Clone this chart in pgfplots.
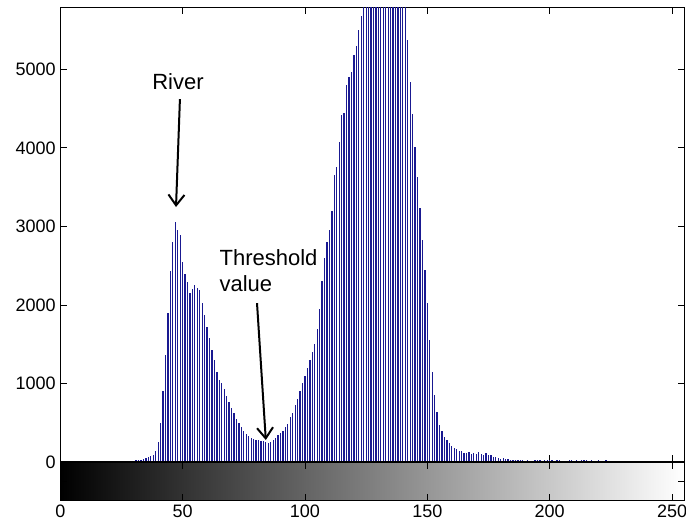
\documentclass[border=0pt]{standalone}
\usepackage{fontspec}
\setmainfont{Liberation Sans}
\usepackage{pgfplots}
\pgfplotsset{compat=1.18}
\usepgfplotslibrary{patchplots}
\usetikzlibrary{arrows.meta}
\definecolor{stemblue}{RGB}{25,25,145}

\pgfplotstableread{
bin count
29 12
30 15
31 20
32 22
33 28
34 38
35 48
36 60
37 72
38 95
39 140
40 250
41 500
42 900
43 1360
44 1900
45 2430
46 2800
47 3050
48 2960
49 2890
50 2550
51 2400
52 2290
53 2150
54 2200
55 2250
56 2220
57 2190
58 2020
59 1870
60 1720
61 1580
62 1430
63 1300
64 1150
65 1050
66 1000
67 930
68 840
69 760
70 690
71 630
72 550
73 500
74 450
75 400
76 360
77 330
78 310
79 295
80 285
81 275
82 270
83 262
84 250
85 240
86 255
87 275
88 300
89 340
90 370
91 400
92 440
93 490
94 570
95 620
96 720
97 800
98 900
99 1000
100 1100
101 1200
102 1300
103 1400
104 1500
105 1700
106 1950
107 2300
108 2600
109 2800
110 2950
111 3200
112 3650
113 3760
114 4080
115 4420
116 4440
117 4800
118 4900
119 4970
120 5180
121 5300
122 5500
123 5680
124 5900
125 6150
126 6400
127 6650
128 6900
129 7100
130 7250
131 7350
132 7400
133 7350
134 7250
135 7050
136 6850
137 6600
138 6350
139 6100
140 5950
141 5850
142 5370
143 4840
144 4430
145 4010
146 3630
147 3230
148 2830
149 2440
150 2020
151 1550
152 1150
153 850
154 640
155 470
156 400
157 320
158 285
159 245
160 200
161 175
162 160
163 135
164 140
165 120
166 110
167 130
168 102
169 110
170 108
171 130
172 100
173 90
174 118
175 95
176 85
177 68
178 60
179 50
180 42
181 45
182 35
183 35
184 28
185 28
186 25
187 22
188 20
189 22
190 18
191 20
192 16
193 18
194 22
195 20
196 25
197 18
198 22
199 30
200 20
201 25
202 18
203 22
204 20
205 15
207 18
208 20
209 22
210 18
211 25
213 22
214 30
215 20
217 25
220 28
223 25
}\histdata

\begin{document}
\begin{tikzpicture}
\useasboundingbox (-45.2pt,-50.25pt) rectangle (469.3pt,346.5pt);

% histogram stems
\begin{axis}[
    name=main,
    at={(0,0)}, anchor=south west,
    scale only axis,
    width=468pt, height=341pt,
    xmin=0, xmax=255,
    ymin=0, ymax=5790,
    xtick={0,50,...,250},
    xticklabels={},
    ytick={0,1000,...,5000},
    scaled y ticks=false,
    /pgf/number format/1000 sep={},
    /pgf/number format/assume math mode=true,
    ticklabel style={font=\fontsize{13.5}{16}\selectfont},
    major tick length=5pt,
    tick style={black, line width=0.6pt},
    axis line style={line width=0.8pt},
]
\addplot[ycomb, stemblue, line width=0.95pt, mark=none] table[x=bin, y=count] {\histdata};

\node[font=\fontsize{16.5}{19.5}\selectfont, anchor=base] at (axis cs:48.1,4745) {River};
\draw[line width=1.5pt, -{Straight Barb[length=8pt,width=12pt]}]
    (axis cs:48.9,4622) -- (axis cs:47.3,3247);

\node[font=\fontsize{16.5}{19.5}\selectfont, anchor=base west] at (axis cs:63.2,2496) {Threshold};
\node[font=\fontsize{16.5}{19.5}\selectfont, anchor=base west] at (axis cs:63.2,2165) {value};
\draw[line width=1.5pt, -{Straight Barb[length=8pt,width=12pt]}]
    (axis cs:80.4,2024) -- (axis cs:84.0,280);
\end{axis}

% grey level bar
\begin{axis}[
    at={(0,0)}, anchor=north west,
    scale only axis,
    width=468pt, height=29pt,
    xmin=0, xmax=255,
    ymin=0, ymax=1,
    xtick={0,50,...,250},
    ytick={0.5},
    yticklabels={},
    /pgf/number format/assume math mode=true,
    ticklabel style={font=\fontsize{13.5}{16}\selectfont},
    major tick length=5pt,
    tick style={black, line width=0.6pt},
    axis line style={line width=0.8pt},
    colormap/blackwhite,
    point meta min=0, point meta max=255,
    axis on top,
]
\addplot[patch, patch type=rectangle, shader=interp, point meta=explicit]
    coordinates {(0,0) [0] (255,0) [255] (255,1) [255] (0,1) [0]};
\end{axis}
\end{tikzpicture}
\end{document}
